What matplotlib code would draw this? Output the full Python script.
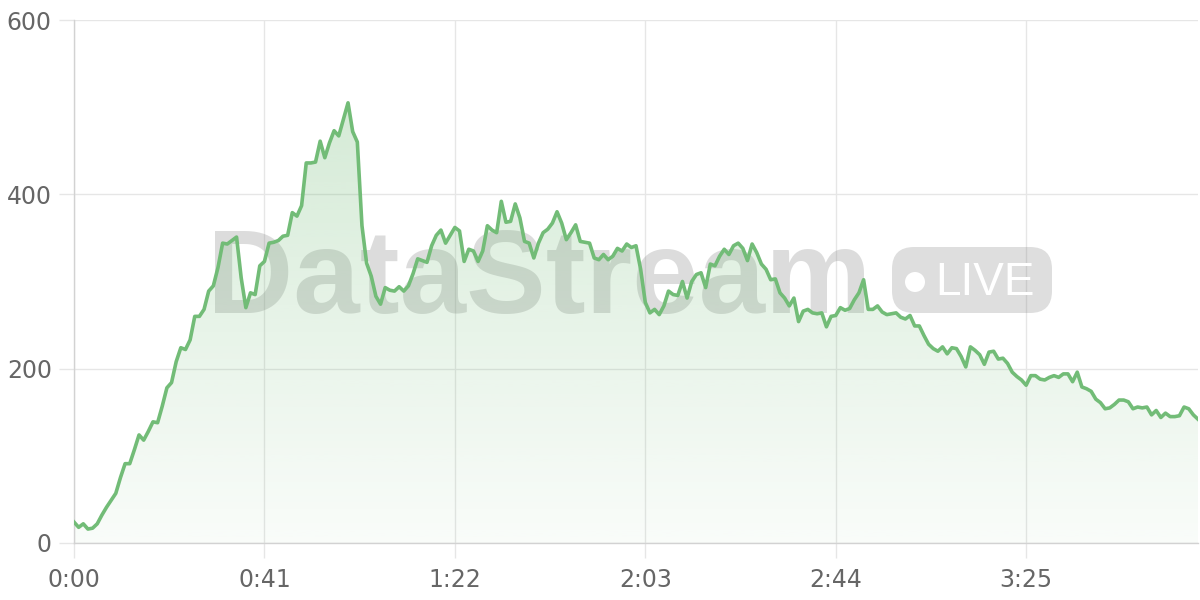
"""Live throughput area chart with a DataStream watermark."""

import matplotlib
matplotlib.use("Agg")
import matplotlib.pyplot as plt
import matplotlib.transforms as mtransforms
import numpy as np
from matplotlib.patches import FancyBboxPatch, Polygon, Circle

LINE_COLOR = "#72bc77"
GRID_COLOR = "#e6e6e6"
AXIS_COLOR = "#d2d2d2"
LABEL_COLOR = "#666666"

# one reading per second
VALUES = [
    24, 18, 22, 16, 17, 22, 32, 41, 49, 57, 75, 91, 91, 107, 124, 118, 128, 139, 138, 157,
    178, 184, 208, 224, 222, 233, 260, 260, 268, 289, 295, 316, 344, 343, 347, 351, 304, 270, 287, 285,
    318, 323, 344, 345, 347, 352, 353, 379, 375, 387, 436, 436, 437, 461, 442, 459, 473, 467, 486, 505,
    472, 460, 364, 321, 306, 283, 274, 293, 290, 289, 294, 289, 295, 309, 326, 324, 322, 341, 353, 359,
    344, 353, 362, 358, 323, 337, 335, 323, 335, 364, 359, 356, 392, 368, 369, 389, 373, 346, 344, 327,
    344, 356, 360, 367, 380, 367, 348, 356, 365, 346, 345, 344, 327, 325, 331, 325, 329, 338, 335, 343,
    339, 341, 314, 276, 264, 268, 262, 272, 289, 285, 284, 300, 281, 300, 308, 310, 293, 320, 318, 329,
    337, 331, 341, 344, 338, 324, 343, 333, 320, 314, 302, 303, 287, 281, 272, 281, 254, 266, 268, 264,
    263, 264, 248, 260, 261, 270, 267, 269, 279, 287, 302, 268, 268, 272, 265, 262, 263, 264, 259, 257,
    261, 249, 249, 238, 228, 223, 220, 225, 217, 224, 223, 214, 202, 225, 221, 216, 205, 219, 220, 211,
    212, 206, 196, 191, 187, 181, 192, 192, 188, 187, 190, 192, 190, 194, 194, 185, 196, 179, 177, 174,
    165, 161, 154, 155, 159, 164, 164, 162, 154, 156, 155, 156, 147, 152, 144, 149, 145, 145, 146, 156,
    154, 147, 142,
]
SECONDS = list(range(len(VALUES)))

TICK_SECONDS = [0, 41, 82, 123, 164, 205]
TICK_LABELS = ["0:00", "0:41", "1:22", "2:03", "2:44", "3:25"]
Y_TICKS = [0, 200, 400, 600]


def main() -> None:
    fig = plt.figure(figsize=(12, 6), dpi=100)
    ax = fig.add_axes([74 / 1200, 57 / 600, 1124 / 1200, 523 / 600])

    x = np.array(SECONDS, dtype=float)
    y = np.array(VALUES, dtype=float)

    # gradient fill under the line
    verts = [(x[0], 0)] + list(zip(x, y)) + [(x[-1], 0)]
    poly = Polygon(verts, closed=True, facecolor="none", edgecolor="none")
    ax.add_patch(poly)
    grad = np.zeros((256, 1, 4))
    grad[..., 0] = 0x6F / 255
    grad[..., 1] = 0xBA / 255
    grad[..., 2] = 0x74 / 255
    grad[:, 0, 3] = np.linspace(0.04, 0.34, 256)
    im = ax.imshow(grad, extent=[x[0], x[-1], 0, 600], origin="lower",
                   aspect="auto", zorder=2, interpolation="bilinear")
    im.set_clip_path(poly)

    ax.plot(x, y, color=LINE_COLOR, lw=2.6, solid_joinstyle="round", zorder=4)

    # watermark (pixel coordinates), sits under the fill
    px = mtransforms.IdentityTransform()
    wm_gray = (0.5, 0.5, 0.5, 0.27)
    ax.text(207, 600 - 313, "DataStream", transform=px, fontsize=86,
            fontweight="bold", family="Liberation Sans", color=wm_gray,
            va="baseline", ha="left", zorder=1)
    badge = FancyBboxPatch((892, 600 - 313), 160, 66, transform=px,
                           boxstyle="round,pad=0,rounding_size=22",
                           facecolor=(0.5, 0.5, 0.5, 0.26), edgecolor="none",
                           zorder=1)
    ax.add_artist(badge)
    ax.add_artist(Circle((915, 600 - 282), 10, transform=px,
                         facecolor="white", edgecolor="none", zorder=1.5))
    ax.text(935, 600 - 295, "LIVE", transform=px, fontsize=33,
            family="Liberation Sans", color="white", va="baseline",
            ha="left", zorder=1.5)

    ax.set_xlim(0, 242)
    ax.set_ylim(0, 600)
    ax.set_xticks(TICK_SECONDS)
    ax.set_xticklabels(TICK_LABELS)
    ax.set_yticks(Y_TICKS)

    ax.grid(True, color=GRID_COLOR, lw=1, zorder=0)
    ax.set_axisbelow(True)
    for side in ["top", "right"]:
        ax.spines[side].set_visible(False)
    for side in ["left", "bottom"]:
        ax.spines[side].set_color(AXIS_COLOR)
        ax.spines[side].set_linewidth(1)
    ax.tick_params(axis="both", colors=GRID_COLOR, length=11, width=1,
                   labelcolor=LABEL_COLOR, labelsize=17)
    ax.tick_params(axis="y", pad=5)
    ax.tick_params(axis="x", pad=7)

    fig.savefig("out.png", dpi=100)


if __name__ == "__main__":
    main()
